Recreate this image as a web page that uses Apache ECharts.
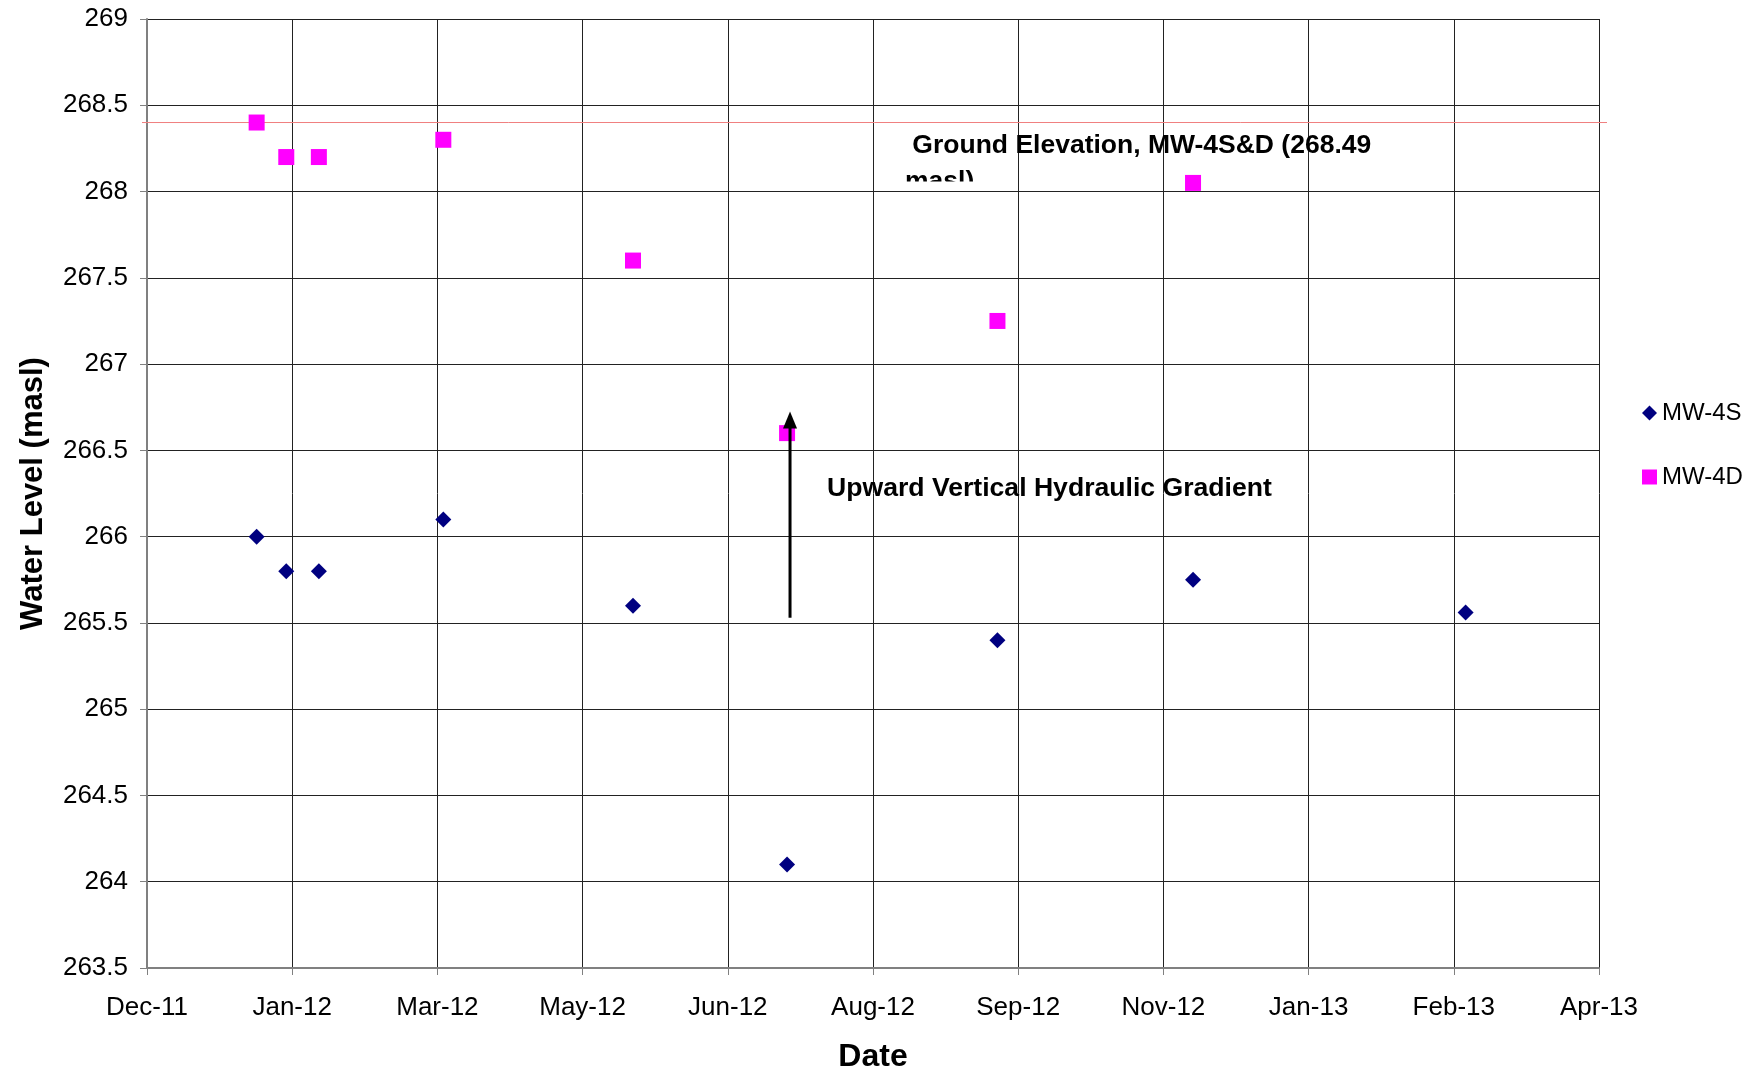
<!DOCTYPE html>
<html>
<head>
<meta charset="utf-8">
<title>MW-4S / MW-4D Water Levels</title>
<script src="https://cdn.jsdelivr.net/npm/echarts@6/dist/echarts.min.js"></script>
<style>
  html, body { margin: 0; padding: 0; background: #fff; }
  #chart { width: 1759px; height: 1070px; }
</style>
</head>
<body>
<div id="chart"></div>
<script>
// ---- date axis: ticks every 49 days starting 10 Dec 2011 ----
const AXIS_START = '2011-12-10';
const AXIS_STEP_DAYS = 49;
const AXIS_STEPS = 10;

// ---- monitoring rounds ----
const sampleDates = ['2012-01-16', '2012-01-26', '2012-02-06', '2012-03-19', '2012-05-22',
                     '2012-07-13', '2012-09-22', '2012-11-27', '2013-02-27'];
const mw4s = [266.0, 265.8, 265.8, 266.1, 265.6, 264.1, 265.4, 265.75, 265.56];
const mw4d = [268.4, 268.2, 268.2, 268.3, 267.6, 266.6, 267.25, 268.05, null];

// ---- y axis ----
const yMin = 263.5, yMax = 269, yStep = 0.5;

// ---- annotations ----
const groundLevel = 268.4;
const gradientArrow = { date: '2012-07-14', from: 265.53, to: 266.725 };
const groundText = ' Ground Elevation, MW-4S&D (268.49\nmasl)';
const gradientText = 'Upward Vertical Hydraulic Gradient';

const MS_DAY = 86400000;
const MONTHS = ['Jan','Feb','Mar','Apr','May','Jun','Jul','Aug','Sep','Oct','Nov','Dec'];
const t0 = Date.parse(AXIS_START + 'T00:00:00Z');
const dayOf = s => Math.round((Date.parse(s + 'T00:00:00Z') - t0) / MS_DAY);
function fmtDate(v) {
  const d = new Date(t0 + v * MS_DAY);
  return MONTHS[d.getUTCMonth()] + '-' + String(d.getUTCFullYear() % 100).padStart(2, '0');
}

const xs = sampleDates.map(dayOf);
const dataS = xs.map((x, i) => [x, mw4s[i]]);
const dataD = xs.map((x, i) => [x, mw4d[i]]).filter(p => p[1] != null);

const FONT = '"Liberation Sans", Arial, sans-serif';
const chart = echarts.init(document.getElementById('chart'), null, { renderer: 'canvas' });

const option = {
  animation: false,
  backgroundColor: '#ffffff',
  grid: { left: 147, right: 160, top: 19, bottom: 102, containLabel: false, outerBoundsMode: 'none' },
  xAxis: {
    type: 'value',
    min: 0, max: AXIS_STEP_DAYS * AXIS_STEPS, interval: AXIS_STEP_DAYS,
    axisLine: { onZero: false, lineStyle: { color: '#808080', width: 2 } },
    axisTick: { show: true, length: 7, lineStyle: { color: '#808080', width: 1 } },
    axisLabel: { formatter: fmtDate, fontFamily: FONT, fontSize: 26, color: '#000', margin: 27 },
    splitLine: { show: true, lineStyle: { color: '#222', width: 1 } },
    name: 'Date', nameLocation: 'middle', nameGap: 73,
    nameTextStyle: { fontFamily: FONT, fontSize: 32, fontWeight: 'bold', color: '#000' }
  },
  yAxis: {
    type: 'value',
    min: yMin, max: yMax, interval: yStep,
    axisLine: { show: true, onZero: false, lineStyle: { color: '#808080', width: 2 } },
    axisTick: { show: true, length: 7, lineStyle: { color: '#808080', width: 1 } },
    axisLabel: { fontFamily: FONT, fontSize: 26, color: '#000', margin: 19 },
    splitLine: { show: true, lineStyle: { color: '#222', width: 1 } },
    name: 'Water Level (masl)', nameLocation: 'middle', nameGap: 98,
    nameTextStyle: { fontFamily: FONT, fontSize: 31, fontWeight: 'bold', color: '#000' }
  },
  legend: {
    orient: 'vertical', left: 1642, top: 401, padding: 0,
    itemWidth: 15, itemHeight: 15, itemGap: 40,
    textStyle: { fontFamily: FONT, fontSize: 24, color: '#000' },
    data: [{ name: 'MW-4S', icon: 'diamond' }, { name: 'MW-4D', icon: 'rect' }]
  },
  series: [
    { name: 'MW-4S', type: 'scatter', symbol: 'diamond', symbolSize: 16,
      itemStyle: { color: '#000080', opacity: 1 }, data: dataS, z: 3 },
    { name: 'MW-4D', type: 'scatter', symbol: 'rect', symbolSize: 16,
      itemStyle: { color: '#FF00FF', opacity: 1 }, data: dataD, z: 3 }
  ]
};
chart.setOption(option);

// ---- overlay: ground line, gradient arrow, text boxes ----
const px = (x, y) => chart.convertToPixel({ gridIndex: 0 }, [x, y]);
const yGround = px(0, groundLevel)[1];
const ax = dayOf(gradientArrow.date);
const aBot = px(ax, gradientArrow.from);
const aTop = px(ax, gradientArrow.to);

chart.setOption({
  graphic: [
    { type: 'line', z: 1, silent: true,
      shape: { x1: 142, y1: yGround, x2: 1607, y2: yGround },
      style: { stroke: '#F08080', lineWidth: 1 } },
    { type: 'line', z: 100, silent: true,
      shape: { x1: aBot[0], y1: aBot[1], x2: aTop[0], y2: aTop[1] + 14 },
      style: { stroke: '#000', lineWidth: 3 } },
    { type: 'polygon', z: 100, silent: true,
      shape: { points: [[aTop[0], aTop[1]], [aTop[0] - 7, aTop[1] + 17], [aTop[0] + 7, aTop[1] + 17]] },
      style: { fill: '#000' } },
    { type: 'text', z: 100, silent: true, x: 827, y: 489,
      style: { text: gradientText, font: 'bold 26.6px ' + FONT, fill: '#000', verticalAlign: 'middle', align: 'left' } }
  ]
});

// Ground elevation text box: its lower edge cuts through the second line
const box = new echarts.graphic.Group();
box.setClipPath(new echarts.graphic.Rect({ shape: { x: 880, y: 100, width: 600, height: 81.5 } }));
box.add(new echarts.graphic.Text({
  z: 100, silent: true,
  style: { text: groundText, x: 905, y: 128, font: 'bold 26.5px ' + FONT, fill: '#000',
           lineHeight: 36, verticalAlign: 'top', align: 'left' }
}));
chart.getZr().add(box);
</script>
</body>
</html>
